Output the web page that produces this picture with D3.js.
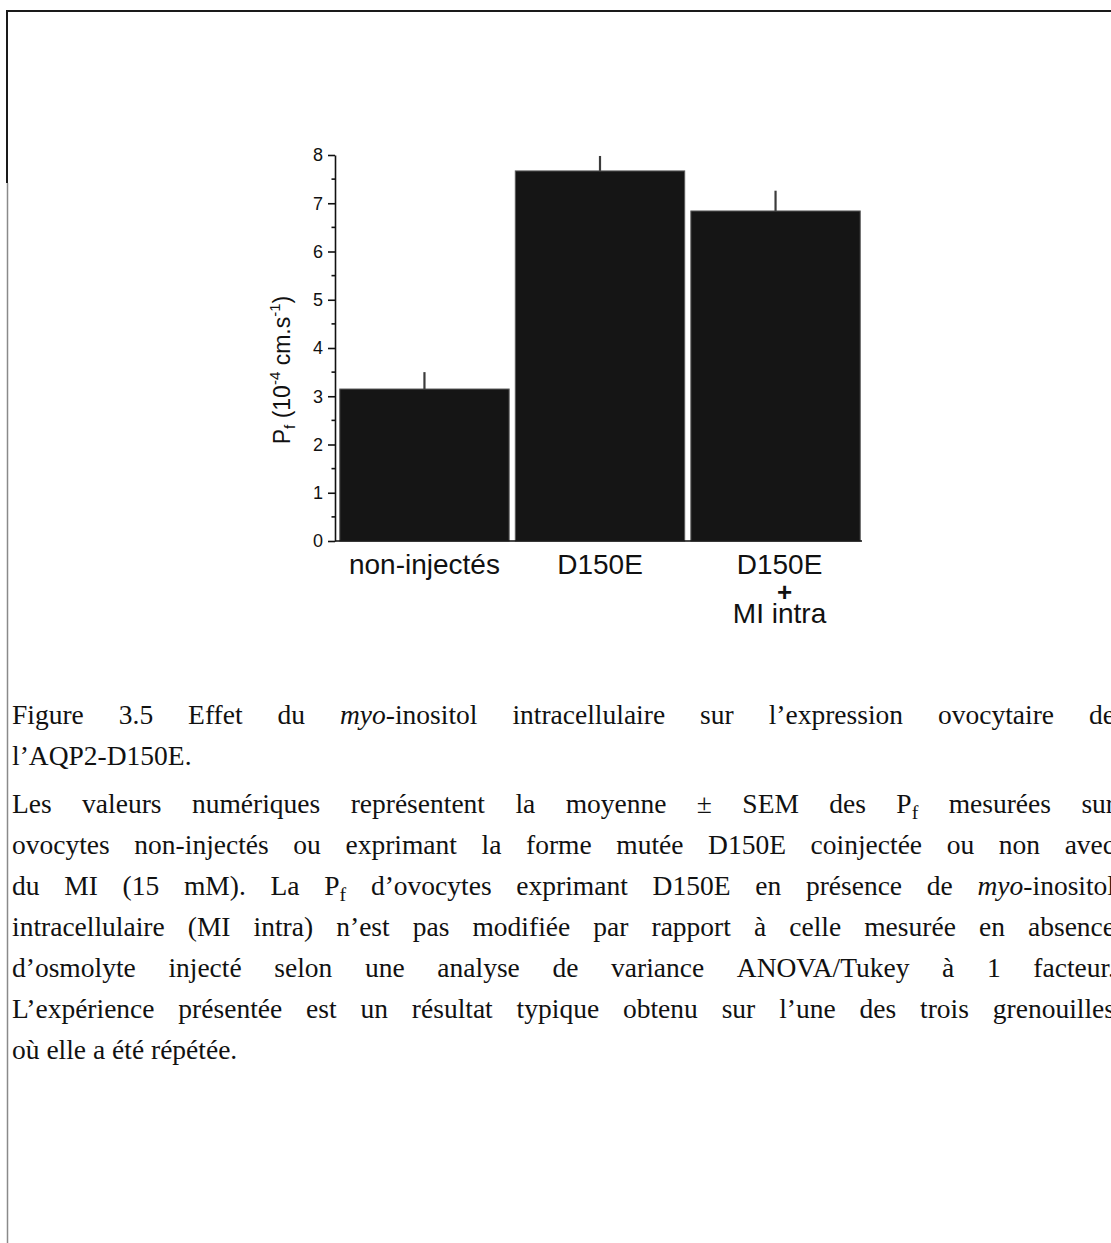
<!DOCTYPE html>
<html>
<head>
<meta charset="utf-8">
<script src="https://cdn.jsdelivr.net/npm/d3@7"></script>
<style>
  body { margin: 0; background: #fff; }
  svg { display: block; }
</style>
</head>
<body>
<svg id="fig" width="1111" height="1243"></svg>
<script>
// Osmotic water permeability Pf (10^-4 cm.s^-1), mean ± SEM
const categories = ["non-injectés", "D150E", "D150E + MI intra"];
const categoryLabelLines = [["non-injectés"], ["D150E"], ["D150E", "+", "MI intra"]];
const means = [3.15, 7.67, 6.84];
const sems = [0.35, 0.31, 0.42];
const yTicks = [0, 1, 2, 3, 4, 5, 6, 7, 8];
const yMinorTicks = [0.5, 1.5, 2.5, 3.5, 4.5, 5.5, 6.5, 7.5];

// Caption text: *...* italic, _x subscript
const captionLines = [
  { text: "Figure 3.5 Effet du *myo*-inositol intracellulaire sur l’expression ovocytaire de", justify: true },
  { text: "l’AQP2-D150E.", justify: false, gapAfter: 7 },
  { text: "Les valeurs numériques représentent la moyenne ± SEM des P_f mesurées sur", justify: true },
  { text: "ovocytes non-injectés ou exprimant la forme mutée D150E coinjectée ou non avec", justify: true },
  { text: "du MI (15 mM). La P_f d’ovocytes exprimant D150E en présence de *myo*-inositol", justify: true },
  { text: "intracellulaire (MI intra) n’est pas modifiée par rapport à celle mesurée en absence", justify: true },
  { text: "d’osmolyte injecté selon une analyse de variance ANOVA/Tukey à 1 facteur.", justify: true },
  { text: "L’expérience présentée est un résultat typique obtenu sur l’une des trois grenouilles", justify: true },
  { text: "où elle a été répétée.", justify: false }
];

const svg = d3.select("#fig");
const sans = "'Liberation Sans', Arial, sans-serif";
const serif = "'Liberation Serif', 'Times New Roman', serif";

// Page frame
svg.append("line").attr("x1", 6).attr("x2", 1111).attr("y1", 11).attr("y2", 11)
  .attr("stroke", "#1a1a1a").attr("stroke-width", 2);
svg.append("line").attr("x1", 7).attr("x2", 7).attr("y1", 10).attr("y2", 183)
  .attr("stroke", "#1a1a1a").attr("stroke-width", 2);
svg.append("line").attr("x1", 7.5).attr("x2", 7.5).attr("y1", 183).attr("y2", 1243)
  .attr("stroke", "#8a8a8a").attr("stroke-width", 1.5);

// Chart
const axisX = 335;
const y = d3.scaleLinear().domain([0, 8]).range([541, 155]);
const x = d3.scaleBand().domain(categories).range([338, 862])
  .paddingInner(0.035).paddingOuter(0.01);

const g = svg.append("g");

// bars
g.selectAll("rect.bar").data(categories).join("rect")
  .attr("class", "bar")
  .attr("x", d => x(d))
  .attr("width", x.bandwidth())
  .attr("y", (d, i) => y(means[i]))
  .attr("height", (d, i) => y(0) - y(means[i]))
  .attr("fill", "#151515")
  .attr("stroke", "#5a5a5a")
  .attr("stroke-width", 1);

// upper error bars
g.selectAll("line.err").data(categories).join("line")
  .attr("class", "err")
  .attr("x1", d => x(d) + x.bandwidth() / 2)
  .attr("x2", d => x(d) + x.bandwidth() / 2)
  .attr("y1", (d, i) => y(means[i]))
  .attr("y2", (d, i) => y(means[i] + sems[i]))
  .attr("stroke", "#3c3c3c")
  .attr("stroke-width", 2.2);

// y axis
const yAxis = d3.axisLeft(y).tickValues(yTicks).tickSize(7).tickSizeOuter(0).tickPadding(5)
  .tickFormat(d3.format("d"));
const ya = g.append("g").attr("transform", `translate(${axisX},0)`).call(yAxis);
ya.select(".domain").attr("stroke", "#111").attr("stroke-width", 1.6);
ya.selectAll(".tick line").attr("stroke", "#111").attr("stroke-width", 1.6);
ya.selectAll(".tick text").attr("font-family", sans).attr("font-size", 18).attr("fill", "#111");

// minor ticks
g.selectAll("line.minor").data(yMinorTicks).join("line")
  .attr("class", "minor")
  .attr("x1", axisX - 3.5).attr("x2", axisX)
  .attr("y1", d => y(d)).attr("y2", d => y(d))
  .attr("stroke", "#111").attr("stroke-width", 1.6);

// x axis baseline
g.append("line").attr("x1", axisX).attr("x2", 862)
  .attr("y1", y(0)).attr("y2", y(0))
  .attr("stroke", "#111").attr("stroke-width", 1.6);

// category labels
const labelY = [574, 601, 623];
categories.forEach((c, i) => {
  const cx = x(c) + x.bandwidth() / 2 + (i === 2 ? 4 : 0);
  categoryLabelLines[i].forEach((t, j) => {
    const plus = t === "+";
    g.append("text")
      .attr("x", cx + (plus ? 5 : 0))
      .attr("y", labelY[j])
      .attr("text-anchor", "middle")
      .attr("font-family", sans)
      .attr("font-size", plus ? 26 : 28)
      .attr("font-weight", plus ? "bold" : "normal")
      .attr("fill", "#111")
      .text(t);
  });
});

// y axis title
const yt = g.append("text")
  .attr("transform", "translate(290,370) rotate(-90)")
  .attr("text-anchor", "middle")
  .attr("font-family", sans)
  .attr("font-size", 23)
  .attr("fill", "#111");
yt.append("tspan").text("P");
yt.append("tspan").attr("font-size", 15).attr("dy", 5).text("f");
yt.append("tspan").attr("dy", -5).text(" (10");
yt.append("tspan").attr("font-size", 15).attr("dy", -10).text("-4");
yt.append("tspan").attr("dy", 10).text(" cm.s");
yt.append("tspan").attr("font-size", 15).attr("dy", -10).text("-1");
yt.append("tspan").attr("dy", 10).text(")");

// caption
const capLeft = 12, capRight = 1115, capSize = 27.5;
const capBase0 = 724, capLead = 41;
const cap = svg.append("g").attr("font-family", serif).attr("font-size", capSize).attr("fill", "#111");

function addWord(parent, word) {
  const t = parent.append("text");
  const re = /\*([^*]+)\*|_(\w)|([^*_]+)/g;
  let m, shifted = false;
  while ((m = re.exec(word)) !== null) {
    if (m[1]) {
      t.append("tspan").attr("font-style", "italic").attr("dy", shifted ? -6 : null).text(m[1]);
      shifted = false;
    } else if (m[2]) {
      t.append("tspan").attr("font-size", capSize * 0.72).attr("dy", 6).text(m[2]);
      shifted = true;
    } else {
      t.append("tspan").attr("dy", shifted ? -6 : null).text(m[3]);
      shifted = false;
    }
  }
  return t;
}

let baseY = capBase0;
captionLines.forEach(line => {
  const words = line.text.split(" ");
  const nodes = words.map(w => addWord(cap, w));
  const widths = nodes.map(n => n.node().getComputedTextLength());
  const total = d3.sum(widths);
  const spaceW = capSize * 0.25;
  const gap = line.justify && words.length > 1
    ? (capRight - capLeft - total) / (words.length - 1)
    : spaceW;
  let cx = capLeft;
  nodes.forEach((n, i) => {
    n.attr("x", cx).attr("y", baseY);
    cx += widths[i] + gap;
  });
  baseY += capLead + (line.gapAfter || 0);
});
</script>
</body>
</html>
